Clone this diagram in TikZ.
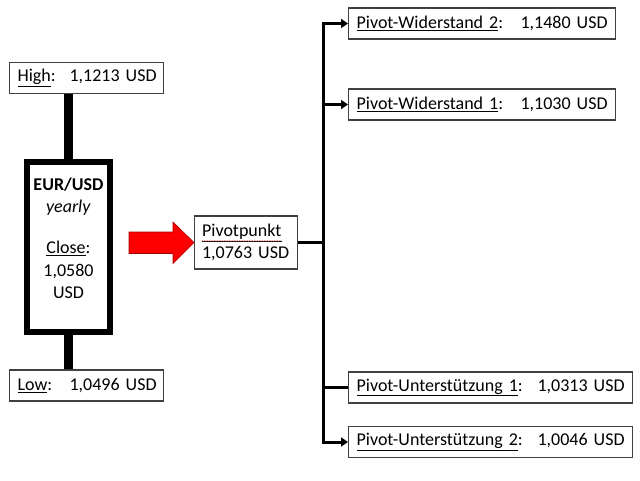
\documentclass[tikz,border=0pt]{standalone}
\usepackage{fontspec}
\setmainfont{Carlito}
\usetikzlibrary{arrows.meta,decorations.pathmorphing}
\definecolor{boxgray}{HTML}{404040}
\definecolor{arrowred}{HTML}{FF0000}
\definecolor{arrowedge}{HTML}{A00000}
\definecolor{spellred}{HTML}{E06060}
\begin{document}
\begin{tikzpicture}[x=1pt,y=-1pt,
  txt/.style={font=\fontsize{18}{22}\selectfont},
  box/.style={txt,draw=boxgray,line width=1.2pt,inner xsep=8pt,inner ysep=0pt,
    minimum height=31pt,anchor=west,align=left},
  conn/.style={line width=3pt,line join=miter},
  connarrow/.style={conn,-{Triangle[length=7pt,width=9pt]}},
  wick/.style={line width=9pt},
  squiggle/.style={draw=spellred,line width=0.4pt,decorate,
    decoration={snake,amplitude=0.4pt,segment length=2.5pt}}]
\useasboundingbox (0,0) rectangle (640,480);
% left side
\node[box,text width=138pt] (high) at (9,78) {\mbox{\makebox[52pt][l]{\underline{High}:}1,1213 USD}};
\node[box,text width=138pt] (low) at (9,385.5) {\mbox{\makebox[52pt][l]{\underline{Low}:}1,0496 USD}};
\node[draw,line width=6.5pt,minimum width=83pt,minimum height=170pt,inner sep=0pt] (candle) at (68.5,246.75) {};
\node[txt,align=center,inner sep=0pt] (candletext) at (68.5,238)
  {\textbf{EUR/USD}\\[0.5pt]\textit{yearly}\\[19pt]\underline{Close}:\\[0.5pt]1,0580\\[0.5pt]USD};
\draw[wick] (candle.north) -- (candle.north |- high.south);
\draw[wick] (candle.south) -- (candle.south |- low.north);
% pivot
\node[box,text width=88pt,inner xsep=7.5pt,minimum height=53pt,align=left] (pivot) at (194,242.5)
  {\underline{Pivotpunkt}\\\mbox{1,0763 USD}};
\path[squiggle] ([xshift=7.5pt,yshift=-25.5pt]pivot.north west) -- ([xshift=87pt,yshift=-25.5pt]pivot.north west);
\coordinate (as) at (129,242);
\draw[fill=arrowred,draw=arrowedge,line width=0.6pt]
  (as) ++(0,-10) -- ++(44,0) -- ++(0,-10) -- (pivot.west) -- ++(-21,21) -- ++(0,-10) -- ++(-44,0) -- cycle;
% right side
\node[box,text width=251pt] (w2) at (348,23.5) {\makebox[164pt][l]{\underline{Pivot-Widerstand 2}:}1,1480 USD};
\node[box,text width=251pt] (w1) at (348,104.5) {\makebox[164pt][l]{\underline{Pivot-Widerstand 1}:}1,1030 USD};
\node[box,text width=268pt] (u1) at (348,387.5) {\makebox[181pt][l]{\underline{Pivot-Unterstützung 1}:}1,0313 USD};
\node[box,text width=268pt] (u2) at (348,442) {\makebox[181pt][l]{\underline{Pivot-Unterstützung 2}:}1,0046 USD};
\draw[conn] (pivot.east) -- ++(25,0) coordinate (j);
\draw[connarrow] (j) |- (w2.west);
\draw[connarrow] (j) |- (w1.west);
\draw[conn] (j) |- (u1.west);
\draw[connarrow] (j) |- (u2.west);
\end{tikzpicture}
\end{document}
